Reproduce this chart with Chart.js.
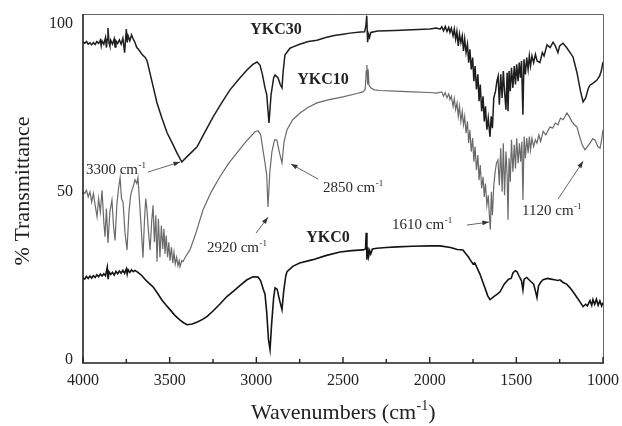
<!DOCTYPE html>
<html>
<head>
<meta charset="utf-8">
<script src="https://cdn.jsdelivr.net/npm/chart.js@4.4.1/dist/chart.umd.min.js"></script>
<style>
  html, body { margin: 0; padding: 0; background: #fff; }
  #wrap { width: 622px; height: 426px; }
</style>
</head>
<body>
<div id="wrap"><canvas id="ftir" width="622" height="426"></canvas></div>
<script>
// Spectra: wavenumber (cm-1) and % transmittance
const ykc30Wn = [4000,3990,3980,3970,3960,3950,3940,3930,3920,3910,3900,3895,3890,3880,3870,3865,3860,3856,3850,3845,3840,3830,3820,3815,3810,3800,3790,3780,3770,3760,3750,3745,3740,3730,3720,3710,3700,3690,3680,3660,3640,3630,3600,3573,3545,3515,3485,3458,3430,3400,3370,3342,3300,3250,3200,3152,3100,3054,3020,2996,2979,2965,2950,2940,2927,2915,2900,2892,2875,2862,2852,2845,2835,2806,2788,2750,2700,2650,2600,2550,2500,2460,2400,2375,2368,2363,2358,2353,2347,2340,2300,2250,2200,2100,2000,1960,1940,1930,1920,1910,1900,1890,1883,1875,1865,1858,1850,1843,1835,1828,1820,1812,1805,1798,1790,1782,1775,1768,1760,1752,1745,1738,1730,1722,1715,1708,1700,1692,1685,1678,1670,1662,1652,1645,1638,1630,1620,1612,1605,1598,1590,1582,1575,1568,1560,1553,1548,1542,1535,1528,1520,1512,1505,1498,1490,1483,1476,1470,1462,1456,1448,1440,1432,1425,1418,1410,1400,1390,1380,1364,1350,1340,1323,1305,1288,1275,1260,1250,1231,1210,1190,1173,1150,1130,1115,1100,1085,1075,1055,1035,1020,1010,1000];
const ykc30T = [94.6,94.3,94.8,94.0,94.4,93.8,94.5,93.9,94.8,94.2,95.2,93.5,95.0,94.0,96.0,93.0,95.5,98.8,94.5,93.5,95.2,94.0,95.6,93.2,95.0,94.2,95.3,94.0,95.8,91.5,98.5,94.5,96.5,95.0,96.8,95.5,94.5,93.0,92.5,91.0,90.0,89.0,82.4,76.5,72.0,67.6,64.5,61.6,58.9,60.5,62.0,63.4,67.5,72.3,76.5,80.4,83.6,86.3,88.0,88.7,87.8,85.0,81.0,79.0,70.5,79.0,84.0,84.8,84.0,82.0,81.0,86.0,90.8,92.8,93.2,94.0,94.8,95.2,96.0,96.6,97.0,97.3,97.6,97.7,99.5,102.5,94.6,97.0,96.0,97.5,97.9,98.0,98.1,98.3,98.5,98.8,98.5,99.2,98.0,99.3,97.8,99.0,97.5,98.8,96.5,98.5,95.5,97.8,93.5,97.0,94.5,96.5,92.0,95.5,91.5,94.0,88.5,92.5,86.5,90.0,83.0,87.5,80.5,85.0,77.0,82.0,74.0,78.5,71.0,75.5,68.5,72.0,66.4,72.5,69.0,78.0,80.0,83.0,84.5,76.0,85.0,78.0,86.0,80.0,74.5,85.5,74.0,86.0,80.0,87.0,81.0,87.5,82.0,88.0,83.0,88.5,84.0,89.0,73.0,89.5,85.0,90.0,86.5,90.5,87.5,90.5,88.5,91.0,89.0,88.5,91.5,90.5,93.8,93.0,94.6,93.5,91.5,93.5,94.3,93.0,91.5,90.2,85.5,80.0,76.8,78.0,80.8,81.8,82.5,83.3,84.5,86.0,88.7];

const ykc10Wn = [4000,3990,3980,3970,3960,3950,3940,3930,3919,3910,3900,3890,3880,3873,3865,3856,3845,3833,3824,3815,3805,3795,3786,3778,3769,3758,3746,3735,3725,3717,3708,3700,3690,3683,3675,3665,3654,3645,3638,3631,3622,3613,3604,3596,3588,3580,3573,3565,3556,3548,3540,3533,3527,3520,3512,3505,3498,3490,3482,3475,3468,3460,3452,3445,3440,3430,3423,3410,3383,3350,3308,3260,3210,3160,3112,3060,3008,2990,2975,2960,2950,2940,2933,2922,2910,2895,2882,2868,2852,2840,2823,2790,2748,2700,2650,2580,2500,2420,2385,2372,2366,2362,2358,2355,2350,2340,2320,2287,2200,2100,2000,1960,1930,1920,1910,1900,1890,1883,1875,1865,1858,1850,1842,1835,1828,1820,1812,1805,1798,1790,1782,1775,1768,1760,1752,1745,1738,1730,1722,1715,1708,1700,1692,1685,1678,1670,1662,1655,1650,1644,1638,1630,1622,1615,1606,1598,1590,1582,1575,1568,1560,1553,1548,1542,1535,1528,1520,1512,1505,1498,1490,1482,1475,1468,1462,1455,1448,1440,1432,1425,1418,1410,1400,1390,1381,1370,1360,1345,1330,1306,1290,1275,1260,1245,1230,1208,1195,1180,1165,1150,1135,1120,1104,1090,1075,1060,1046,1030,1017,1008,1000];
const ykc10T = [50.0,49.5,50.5,48.5,50.0,47.0,49.5,46.0,42.6,48.0,44.0,50.5,41.0,36.6,45.0,34.8,44.0,47.6,40.0,35.5,46.0,51.0,54.2,48.0,47.0,38.0,32.7,44.0,49.0,50.6,52.0,53.6,52.5,54.2,48.0,40.0,30.4,42.0,48.0,44.6,38.0,32.7,41.0,46.0,35.0,43.0,29.2,42.0,30.5,40.0,33.0,39.0,31.5,37.0,30.5,35.0,29.5,33.5,28.8,32.0,28.5,30.5,28.0,29.5,27.7,29.5,29.2,30.5,32.7,37.5,44.6,50.0,54.5,58.5,61.6,65.0,67.9,68.2,67.0,62.0,58.6,55.0,45.5,56.0,62.0,65.5,65.5,62.0,58.6,65.0,68.5,71.5,73.5,75.2,76.5,77.5,78.3,79.3,79.8,80.5,86.0,87.8,82.0,86.5,81.8,81.0,80.4,80.2,80.0,79.8,79.6,79.4,79.8,78.5,79.6,78.0,79.2,77.5,78.5,75.5,77.8,74.5,76.5,72.5,75.5,71.0,74.0,70.0,72.5,67.5,71.0,64.5,68.5,62.0,66.0,59.0,63.5,56.5,61.0,53.5,58.0,51.0,54.5,48.5,52.5,46.0,49.0,42.5,38.7,50.0,43.0,52.0,56.0,58.5,59.5,52.0,63.0,50.0,64.5,49.0,62.0,55.0,41.7,60.0,53.0,65.5,56.0,64.0,57.0,66.0,58.5,64.5,59.0,65.0,47.6,66.5,60.0,66.0,61.5,66.5,62.5,66.0,63.5,65.5,64.5,67.0,65.0,68.0,67.0,69.3,69.0,70.5,70.0,72.0,71.5,73.5,72.5,71.0,70.0,69.3,66.5,64.0,62.5,63.5,64.5,65.8,65.5,63.5,63.0,65.5,68.5];

const ykc0Wn = [4000,3990,3980,3970,3960,3950,3940,3930,3920,3910,3900,3890,3880,3870,3860,3855,3850,3840,3830,3820,3810,3800,3790,3780,3770,3760,3750,3745,3740,3730,3720,3710,3700,3683,3660,3640,3620,3596,3570,3545,3520,3498,3470,3440,3420,3400,3370,3340,3310,3285,3250,3210,3170,3130,3090,3054,3019,2990,2975,2960,2950,2940,2930,2921,2912,2900,2892,2880,2865,2852,2842,2830,2823,2790,2750,2673,2600,2517,2450,2385,2370,2366,2362,2357,2352,2346,2340,2330,2304,2250,2188,2100,2000,1940,1880,1840,1808,1790,1775,1767,1750,1740,1727,1710,1692,1675,1665,1652,1630,1610,1594,1570,1545,1530,1519,1505,1496,1485,1470,1462,1455,1440,1421,1400,1390,1381,1372,1360,1346,1320,1300,1280,1260,1248,1230,1210,1190,1170,1150,1130,1115,1100,1090,1075,1065,1058,1048,1038,1028,1018,1008,1000];
const ykc0T = [24.4,24.0,24.8,24.2,24.9,24.3,25.0,24.5,25.3,24.7,25.5,24.9,25.6,25.0,27.5,24.0,26.2,25.4,26.0,25.2,26.3,25.6,26.4,25.8,26.6,25.7,27.0,25.5,26.8,26.0,26.8,26.2,26.6,26.0,25.0,23.8,22.8,21.7,19.8,17.8,16.2,14.9,13.2,11.8,11.0,10.4,10.6,11.2,12.0,12.8,14.5,16.6,18.8,20.5,22.3,23.8,24.7,24.6,23.5,21.0,19.5,14.0,6.0,3.0,10.5,18.5,21.4,21.0,17.5,14.9,20.5,25.0,26.2,27.8,28.8,29.8,31.0,32.1,32.5,32.7,33.0,37.8,29.8,33.5,30.8,32.5,31.5,33.0,33.2,33.4,33.6,33.8,33.9,33.9,33.4,32.8,32.7,31.5,30.5,29.8,28.5,28.8,27.4,25.5,22.9,20.5,19.0,17.9,18.8,19.5,20.2,22.5,24.0,24.2,25.9,26.5,26.2,25.0,23.5,20.8,24.0,24.5,23.5,22.5,20.5,18.5,22.0,23.0,23.8,24.2,24.0,23.8,23.6,23.8,23.0,22.5,21.4,20.0,18.5,17.0,15.8,16.5,16.0,17.6,16.2,17.9,16.5,18.0,16.2,17.5,16.0,17.0];

const seriesNames = ['YKC30', 'YKC10', 'YKC0'];
const yTickValues = [0, 50, 100];

// label anchors in data units [wavenumber, %T]
const nameAnchors = [[2887, 98.2], [2615, 83.3], [2587, 36.2]];
const peakLabels = ['3300', '2850', '2920', '1610', '1120'];
const peakTextAt = [[3983, 56.5], [2615, 51.1], [3285, 33.2], [2217, 40.1], [1467, 44.3]];
const arrowFrom = [[3625, 55.9], [2644, 53.8], [3002, 37.7], [1785, 40.1], [1260, 47.8]];
const arrowTo = [[3440, 58.9], [2800, 58.3], [2933, 42.4], [1658, 41.0], [1115, 59.1]];

const SERIF = "'Liberation Serif', 'Times New Roman', 'DejaVu Serif', serif";

function toPoints(wn, t) {
    return wn.map((w, i) => ({ x: w, y: t[i] }));
}

// text with a superscript "-1" after it
function drawCm(ctx, text, x, y, size) {
    const supSize = Math.round(size * 0.62);
    ctx.textAlign = 'left';
    ctx.textBaseline = 'middle';
    ctx.font = size + 'px ' + SERIF;
    const w1 = ctx.measureText(text).width;
    ctx.fillText(text, x, y);
    ctx.font = supSize + 'px ' + SERIF;
    const w2 = ctx.measureText('-1').width;
    ctx.fillText('-1', x + w1 + 0.5, y - size * 0.3);
    return x + w1 + w2 + 0.5;
}

const decor = {
    id: 'decor',
    afterDatasetsDraw(chart) {
        const ctx = chart.ctx;
        const xs = chart.scales.x, ys = chart.scales.y;
        const a = chart.chartArea;
        ctx.save();

        // frame
        ctx.strokeStyle = '#666';
        ctx.lineWidth = 1;
        ctx.beginPath();
        ctx.moveTo(a.left, a.top + 0.5);
        ctx.lineTo(a.right + 0.5, a.top + 0.5);
        ctx.lineTo(a.right + 0.5, a.bottom);
        ctx.stroke();
        ctx.strokeStyle = '#222';
        ctx.lineWidth = 1.6;
        ctx.beginPath();
        ctx.moveTo(a.left, a.top);
        ctx.lineTo(a.left, a.bottom);
        ctx.lineTo(a.right + 1, a.bottom);
        ctx.stroke();

        // inward tick marks on the wavenumber axis
        ctx.lineWidth = 1.4;
        xs.ticks.forEach(t => {
            const px = xs.getPixelForValue(t.value);
            const len = t.value % 500 === 0 ? 6 : 4;
            ctx.beginPath();
            ctx.moveTo(px, a.bottom);
            ctx.lineTo(px, a.bottom - len);
            ctx.stroke();
        });

        // series names
        ctx.fillStyle = '#222';
        ctx.textAlign = 'center';
        ctx.textBaseline = 'middle';
        ctx.font = 'bold 16px ' + SERIF;
        seriesNames.forEach((n, i) => {
            ctx.fillText(n, xs.getPixelForValue(nameAnchors[i][0]), ys.getPixelForValue(nameAnchors[i][1]));
        });

        // peak labels with arrows
        peakLabels.forEach((p, i) => {
            ctx.fillStyle = '#2a2a2a';
            drawCm(ctx, p + ' cm', xs.getPixelForValue(peakTextAt[i][0]), ys.getPixelForValue(peakTextAt[i][1]), 15);
            const x1 = xs.getPixelForValue(arrowFrom[i][0]), y1 = ys.getPixelForValue(arrowFrom[i][1]);
            const x2 = xs.getPixelForValue(arrowTo[i][0]), y2 = ys.getPixelForValue(arrowTo[i][1]);
            ctx.strokeStyle = '#666';
            ctx.lineWidth = 1;
            ctx.beginPath();
            ctx.moveTo(x1, y1);
            ctx.lineTo(x2, y2);
            ctx.stroke();
            const ang = Math.atan2(y2 - y1, x2 - x1);
            ctx.fillStyle = '#333';
            ctx.beginPath();
            ctx.moveTo(x2, y2);
            ctx.lineTo(x2 - 7 * Math.cos(ang - 0.35), y2 - 7 * Math.sin(ang - 0.35));
            ctx.lineTo(x2 - 7 * Math.cos(ang + 0.35), y2 - 7 * Math.sin(ang + 0.35));
            ctx.closePath();
            ctx.fill();
        });

        // axis titles
        ctx.fillStyle = '#222';
        ctx.font = '22px ' + SERIF;
        const w1 = ctx.measureText('Wavenumbers (cm').width;
        ctx.font = '14px ' + SERIF;
        const w2 = ctx.measureText('-1').width;
        ctx.font = '22px ' + SERIF;
        const w3 = ctx.measureText(')').width;
        const cx = (a.left + a.right) / 2;
        const endX = drawCm(ctx, 'Wavenumbers (cm', cx - (w1 + w2 + w3) / 2, 413, 22);
        ctx.font = '22px ' + SERIF;
        ctx.textAlign = 'left';
        ctx.fillText(')', endX, 413);

        ctx.translate(23, 191);
        ctx.rotate(-Math.PI / 2);
        ctx.textAlign = 'center';
        ctx.textBaseline = 'middle';
        ctx.font = '22px ' + SERIF;
        ctx.fillText('% Transmittance', 0, 0);
        ctx.restore();
    }
};

const chart = new Chart(document.getElementById('ftir').getContext('2d'), {
    type: 'line',
    data: {
        datasets: [
            { label: seriesNames[0], data: toPoints(ykc30Wn, ykc30T), borderColor: '#1e1e1e', borderWidth: 1.5 },
            { label: seriesNames[1], data: toPoints(ykc10Wn, ykc10T), borderColor: '#6a6a6a', borderWidth: 1.2 },
            { label: seriesNames[2], data: toPoints(ykc0Wn, ykc0T), borderColor: '#141414', borderWidth: 1.6 }
        ]
    },
    options: {
        responsive: false,
        animation: false,
        events: [],
        layout: { padding: { left: 0, right: 19, top: 14, bottom: 0 } },
        elements: { point: { radius: 0 }, line: { tension: 0 } },
        plugins: { legend: { display: false }, tooltip: { enabled: false } },
        scales: {
            x: {
                type: 'linear',
                reverse: true,
                min: 1000,
                max: 4000,
                // tick marks are drawn by the plugin; tickLength only spaces the labels
                grid: { display: false, drawTicks: true, tickLength: 8 },
                border: { display: false },
                ticks: {
                    stepSize: 250,
                    autoSkip: false,
                    maxRotation: 0,
                    padding: 0,
                    color: '#222',
                    font: { family: SERIF, size: 16 },
                    callback: v => (v % 500 === 0 ? String(v) : '')
                },
                afterFit: s => { s.height = 63; }
            },
            y: {
                min: -1,
                max: 103,
                grid: { display: false, drawTicks: true, tickLength: 10 },
                border: { display: false },
                afterBuildTicks: s => { s.ticks = yTickValues.map(v => ({ value: v })); },
                ticks: {
                    padding: 0,
                    color: '#222',
                    font: { family: SERIF, size: 16 }
                },
                afterFit: s => { s.width = 83; }
            }
        }
    },
    plugins: [decor]
});
</script>
</body>
</html>
